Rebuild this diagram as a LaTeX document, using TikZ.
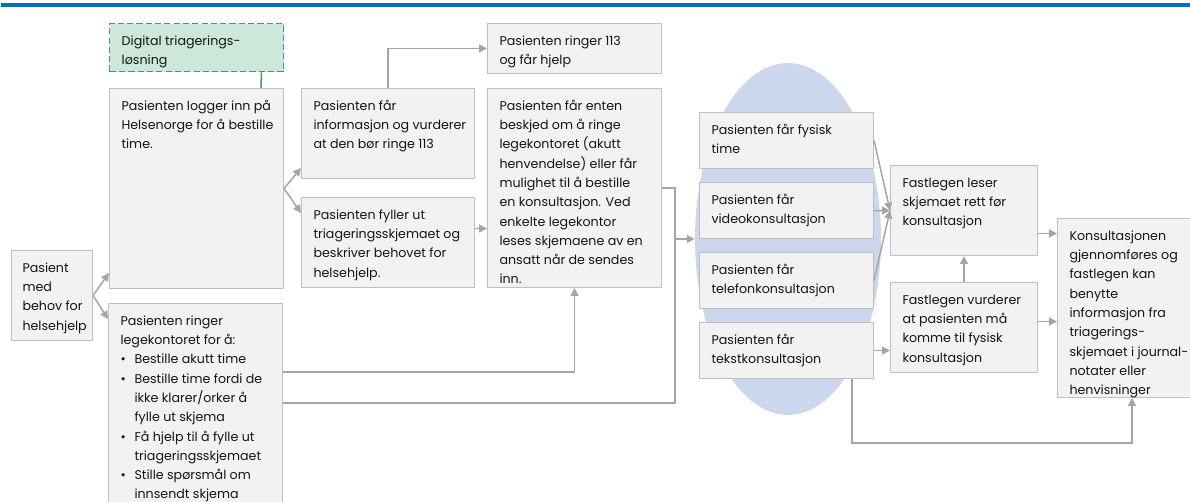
\documentclass[tikz,border=0pt]{standalone}
\usepackage{fontspec}
\setmainfont{Poppins}
\usetikzlibrary{arrows.meta,shapes.geometric}

\definecolor{topblue}{HTML}{0070C0}
\definecolor{boxfill}{HTML}{F2F2F2}
\definecolor{boxline}{HTML}{BFBFBF}
\definecolor{arrowgray}{HTML}{A5A5A5}
\definecolor{greenfill}{HTML}{CDE8DA}
\definecolor{greenline}{HTML}{3E9B6E}
\definecolor{ovalblue}{HTML}{CCD7EE}
\definecolor{textdark}{HTML}{141414}

\newcommand{\boxtext}[3]{\parbox[t][#2][t]{#1}{\begin{tabular}[t]{@{}l@{}}#3\end{tabular}}}
\newcommand{\bitem}{\makebox[0.28cm][l]{\textbullet}}
\newcommand{\bindent}{\hspace*{0.28cm}}

\tikzset{pbox/.style = {shape = rectangle,
                        anchor = north west,
                        draw = boxline,
                        fill = boxfill,
                        line width = 0.6pt,
                        inner xsep = 0.24cm,
                        inner ysep = 0.16cm,
                        text = textdark,
                        font = \fontsize{7.2}{11}\selectfont},
         gbox/.style = {pbox,
                        draw = greenline,
                        fill = greenfill,
                        line width = 0.85pt,
                        dash pattern = on 3.5pt off 1.8pt},
         oval/.style = {shape = ellipse,
                        fill = ovalblue,
                        inner sep = 0pt,
                        minimum width = 3.72cm,
                        minimum height = 7.04cm},
         arr/.style = {draw = arrowgray,
                       line width = 0.85pt,
                       -{Triangle[length=4.5pt,width=4.5pt]}},
         link/.style = {draw = arrowgray,
                        line width = 0.85pt},
         greenlink/.style = {draw = greenline,
                             line width = 0.85pt}}

\begin{document}
\begin{tikzpicture}[x=0.02cm, y=-0.02cm]
	\useasboundingbox (0,0) rectangle (1190,502);
	\fill[topblue] (1,3) rectangle (1190,7);

	\node[oval] (oval) at (788,239) {};

	\node[gbox] (digital) at (109,23) {\boxtext{3.00cm}{0.64cm}{Digital triagerings-\\løsning}};
	\node[pbox] (logger) at (109,88) {\boxtext{3.00cm}{3.68cm}{Pasienten logger inn på\\Helsenorge for å bestille\\time.}};
	\node[pbox, inner xsep=0.22cm] (pasient) at (11,250) {\boxtext{1.18cm}{1.48cm}{Pasient\\med\\behov for\\helsehjelp}};
	\node[pbox] (ringer) at (108,303) {\boxtext{3.00cm}{3.98cm}{Pasienten ringer\\legekontoret for å:\\
		\bitem Bestille akutt time\\
		\bitem Bestille time fordi de\\\bindent ikke klarer/orker å\\\bindent fylle ut skjema\\
		\bitem Få hjelp til å fylle ut\\\bindent triageringsskjemaet\\
		\bitem Stille spørsmål om\\\bindent innsendt skjema}};
	\node[pbox] (info) at (301,88) {\boxtext{2.98cm}{1.48cm}{Pasienten får\\informasjon og vurderer\\at den bør ringe 113}};
	\node[pbox] (fyller) at (301,197) {\boxtext{2.98cm}{1.48cm}{Pasienten fyller ut\\triageringsskjemaet og\\beskriver behovet for\\helsehjelp.}};
	\node[pbox] (r113) at (487,23) {\boxtext{3.00cm}{0.68cm}{Pasienten ringer 113\\og får hjelp}};
	\node[pbox] (enten) at (487,88) {\boxtext{3.00cm}{3.66cm}{Pasienten får enten\\beskjed om å ringe\\legekontoret (akutt\\henvendelse) eller får\\mulighet til å bestille\\en konsultasjon. Ved\\enkelte legekontor\\leses skjemaene av en\\ansatt når de sendes\\inn.}};
	\node[pbox] (fysisk) at (699,112) {\boxtext{3.00cm}{0.80cm}{Pasienten får fysisk\\time}};
	\node[pbox] (video) at (699,182) {\boxtext{3.00cm}{0.80cm}{Pasienten får\\videokonsultasjon}};
	\node[pbox] (tele) at (699,252) {\boxtext{3.00cm}{0.80cm}{Pasienten får\\telefonkonsultasjon}};
	\node[pbox] (tekst) at (699,322) {\boxtext{3.00cm}{0.80cm}{Pasienten får\\tekstkonsultasjon}};
	\node[pbox] (leser) at (890,165) {\boxtext{2.46cm}{1.48cm}{Fastlegen leser\\skjemaet rett før\\konsultasjon}};
	\node[pbox] (vurderer) at (890,282) {\boxtext{2.46cm}{1.48cm}{Fastlegen vurderer\\at pasienten må\\komme til fysisk\\konsultasjon}};
	\node[pbox] (konsult) at (1057,218) {\boxtext{2.60cm}{3.26cm}{Konsultasjonen\\gjennomføres og\\fastlegen kan\\benytte\\informasjon fra\\triagerings-\\skjemaet i journal-\\notater eller\\henvisninger}};

	\draw[greenlink] ([xshift=-0.46cm]digital.south east) -- ([xshift=-0.46cm]logger.north east);

	\draw[arr] (pasient.east) -- ([yshift=0.32cm]logger.south west);
	\draw[arr] (pasient.east) -- ([yshift=-0.32cm]ringer.north west);
	\draw[arr] (logger.east) -- ([yshift=0.22cm]info.south west);
	\draw[arr] (logger.east) -- ([yshift=-0.32cm]fyller.north west);
	\draw[arr] (info.north) |- (r113.west);
	\coordinate (fyl) at ([yshift=0.28cm]fyller.east);
	\draw[arr] (fyl) -- (fyl -| enten.west);
	\draw[arr] ([yshift=-1.38cm]ringer.north east) -| (enten.south);
	\coordinate (jn) at ([xshift=0.26cm]enten.east);
	\draw[link] (enten.east) -- (jn) |- ([yshift=-2cm]ringer.north east);
	\draw[arr] (jn |- oval.west) -- (oval.west);

	\draw[arr] (fysisk.east) -- (leser.west);
	\draw[arr] (video.east) -- (leser.west);
	\draw[arr] (tele.east) -- (leser.west);
	\draw[arr] (tekst.east) -- (tekst.east -| vurderer.west);
	\draw[arr] (vurderer.north) -- (leser.south);
	\coordinate (ls) at ([yshift=-0.46cm]leser.east);
	\draw[arr] (ls) -- (ls -| konsult.west);
	\coordinate (vu) at ([yshift=0.12cm]vurderer.east);
	\draw[arr] (vu) -- (vu -| konsult.west);
	\draw[arr] ([xshift=-0.44cm]tekst.south east) -- ++(0,-1.28cm) -| ([xshift=-1.6cm]konsult.south east);
\end{tikzpicture}
\end{document}
